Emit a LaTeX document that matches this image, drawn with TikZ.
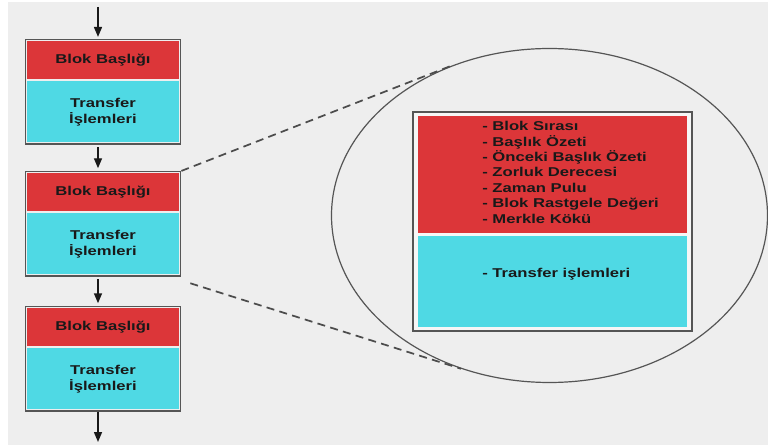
\documentclass[tikz,border=0pt]{standalone}
\usepackage{fontspec}
\newfontfamily\blkfont[FakeStretch=1.3]{Liberation Sans}
\usetikzlibrary{positioning, fit, shapes.geometric, arrows.meta}

\definecolor{bggray}{HTML}{EEEEEE}
\definecolor{blkred}{HTML}{DC3639}
\definecolor{blkcyan}{HTML}{4FD9E4}
\definecolor{framegray}{HTML}{555555}

\begin{document}
\begin{tikzpicture}[x=0.75pt, y=0.75pt, >={Triangle[length=7.5pt,width=6pt]},
    txt/.style={font=\blkfont\bfseries\fontsize{9.6}{12}\selectfont, text=black!90},
    head/.style={txt, fill=blkred, minimum width=114pt, minimum height=28.5pt, inner sep=0},
    body/.style={txt, fill=blkcyan, minimum width=114pt, minimum height=45.75pt, inner sep=0, align=center},
    blkframe/.style={draw=framegray, line width=1.1pt, inner sep=1pt},
    arw/.style={->, line width=1.1pt, black!90},
    zoomline/.style={dash pattern=on 6pt off 4pt, line width=1.3pt, black!70}]

    % -------------------------------------------------------
    % 1. Background
    % -------------------------------------------------------
    \useasboundingbox (0,0) rectangle (768,447);
    \fill[bggray] (8,2) rectangle (768,445);

    % -------------------------------------------------------
    % 2. Chain of blocks
    % -------------------------------------------------------
    \foreach \i/\top in {1/408, 2/276, 3/141} {
        \node[head, anchor=north] (head\i) at (103,\top-2) {Blok Başlığı};
        \node[body, below=1.1pt of head\i] (body\i) {Transfer\\İşlemleri};
        \node[blkframe, fit=(head\i)(body\i)] (blk\i) {};
    }

    % links between the blocks
    \coordinate (in) at (98,440);
    \coordinate (out) at (98,5);
    \draw[arw, shorten >=1.5pt] (in) -- (in |- blk1.north);
    \draw[arw, shorten <=2pt, shorten >=2pt] (blk1.south -| in) -- (blk2.north -| in);
    \draw[arw, shorten <=2pt, shorten >=2pt] (blk2.south -| in) -- (blk3.north -| in);
    \draw[arw] (blk3.south -| in) -- (out);

    % -------------------------------------------------------
    % 3. Zoomed block
    % -------------------------------------------------------
    \node[ellipse, draw=framegray, line width=0.9pt, minimum width=327pt,
          minimum height=250.5pt, inner sep=0] (zoom) at (549.5,231.5) {};
    \node[blkframe, line width=1.4pt, fill=white!50!bggray, minimum width=209.25pt,
          minimum height=164.25pt, inner sep=0] (bigblk) at (552.5,225.5) {};
    \node[fill=blkred, minimum width=201.75pt, minimum height=87.75pt, inner sep=0] (bighead) at (552.5,272.5) {};
    \node[fill=blkcyan, minimum width=201.75pt, minimum height=68.25pt, inner sep=0] (bigbody) at (552.5,165.5) {};

    \node[txt, font=\blkfont\bfseries\fontsize{9.6}{11.6}\selectfont, align=left,
          inner sep=0, anchor=north west] (fields) at (482,326)
        {- Blok Sırası\\- Başlık Özeti\\- Önceki Başlık Özeti\\- Zorluk Derecesi\\%
         - Zaman Pulu\\- Blok Rastgele Değeri\\- Merkle Kökü};
    \node[txt, inner sep=0, anchor=west] (txlist) at (482,173) {- Transfer işlemleri};

    % zoom lines
    \draw[zoomline] (blk2.north east) -- (zoom.123);
    \draw[zoomline] ([shift={(6.75pt,-5pt)}]blk2.south east) -- (zoom.240);
\end{tikzpicture}
\end{document}
